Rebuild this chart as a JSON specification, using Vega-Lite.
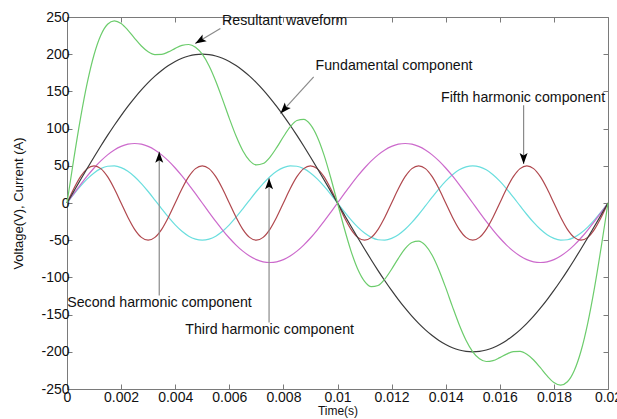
{
  "$schema": "https://vega.github.io/schema/vega-lite/v6.json",
  "autosize": {"type": "none"},
  "width": 541,
  "height": 372,
  "padding": {"left": 67, "top": 17, "right": 9, "bottom": 30},
  "background": "white",
  "config": {
    "font": "Liberation Sans",
    "view": {"stroke": "#7a7a7a", "strokeWidth": 1},
    "axis": {"domain": false, "grid": false, "tickColor": "#7a7a7a", "tickSize": -5, "labelFont": "Liberation Sans", "titleFont": "Liberation Sans", "labelFontSize": 14, "titleFontSize": 12, "titleFontWeight": "normal", "labelColor": "#111", "titleColor": "#111"}
  },
  "datasets": {
    "waves": [
      {"t": 0, "fund": 0, "h2": 0, "h3": 0, "h5": 0, "res": 0},
      {"t": 0.00025, "fund": 15.69, "h2": 12.51, "h3": 11.67, "h5": 19.13, "res": 59.0},
      {"t": 0.0005, "fund": 31.29, "h2": 24.72, "h3": 22.70, "h5": 35.36, "res": 114.07},
      {"t": 0.00075, "fund": 46.69, "h2": 36.32, "h3": 32.47, "h5": 46.19, "res": 161.67},
      {"t": 0.001, "fund": 61.80, "h2": 47.02, "h3": 40.45, "h5": 50, "res": 199.27},
      {"t": 0.00125, "fund": 76.54, "h2": 56.57, "h3": 46.19, "h5": 46.19, "res": 225.49},
      {"t": 0.0015, "fund": 90.80, "h2": 64.72, "h3": 49.38, "h5": 35.36, "res": 240.26},
      {"t": 0.00175, "fund": 104.50, "h2": 71.28, "h3": 49.85, "h5": 19.13, "res": 244.76},
      {"t": 0.002, "fund": 117.56, "h2": 76.08, "h3": 47.55, "h5": 0, "res": 241.19},
      {"t": 0.00225, "fund": 129.89, "h2": 79.02, "h3": 42.63, "h5": -19.13, "res": 232.41},
      {"t": 0.0025, "fund": 141.42, "h2": 80, "h3": 35.36, "h5": -35.36, "res": 221.42},
      {"t": 0.00275, "fund": 152.08, "h2": 79.02, "h3": 26.13, "h5": -46.19, "res": 211.04},
      {"t": 0.003, "fund": 161.80, "h2": 76.08, "h3": 15.45, "h5": -50, "res": 203.33},
      {"t": 0.00325, "fund": 170.53, "h2": 71.28, "h3": 3.92, "h5": -46.19, "res": 199.54},
      {"t": 0.0035, "fund": 178.20, "h2": 64.72, "h3": -7.82, "h5": -35.36, "res": 199.74},
      {"t": 0.00375, "fund": 184.78, "h2": 56.57, "h3": -19.13, "h5": -19.13, "res": 203.09},
      {"t": 0.004, "fund": 190.21, "h2": 47.02, "h3": -29.39, "h5": 0, "res": 207.84},
      {"t": 0.00425, "fund": 194.47, "h2": 36.32, "h3": -38.02, "h5": 19.13, "res": 211.90},
      {"t": 0.0045, "fund": 197.54, "h2": 24.72, "h3": -44.55, "h5": 35.36, "res": 213.07},
      {"t": 0.00475, "fund": 199.38, "h2": 12.51, "h3": -48.62, "h5": 46.19, "res": 209.46},
      {"t": 0.005, "fund": 200, "h2": 0, "h3": -50, "h5": 50, "res": 200},
      {"t": 0.00525, "fund": 199.38, "h2": -12.51, "h3": -48.62, "h5": 46.19, "res": 184.44},
      {"t": 0.0055, "fund": 197.54, "h2": -24.72, "h3": -44.55, "h5": 35.36, "res": 163.63},
      {"t": 0.00575, "fund": 194.47, "h2": -36.32, "h3": -38.02, "h5": 19.13, "res": 139.26},
      {"t": 0.006, "fund": 190.21, "h2": -47.02, "h3": -29.39, "h5": 0, "res": 113.80},
      {"t": 0.00625, "fund": 184.78, "h2": -56.57, "h3": -19.13, "h5": -19.13, "res": 89.95},
      {"t": 0.0065, "fund": 178.20, "h2": -64.72, "h3": -7.82, "h5": -35.36, "res": 70.30},
      {"t": 0.00675, "fund": 170.53, "h2": -71.28, "h3": 3.92, "h5": -46.19, "res": 56.98},
      {"t": 0.007, "fund": 161.80, "h2": -76.08, "h3": 15.45, "h5": -50, "res": 51.17},
      {"t": 0.00725, "fund": 152.08, "h2": -79.02, "h3": 26.13, "h5": -46.19, "res": 53.00},
      {"t": 0.0075, "fund": 141.42, "h2": -80, "h3": 35.36, "h5": -35.36, "res": 61.42},
      {"t": 0.00775, "fund": 129.89, "h2": -79.02, "h3": 42.63, "h5": -19.13, "res": 74.37},
      {"t": 0.008, "fund": 117.56, "h2": -76.08, "h3": 47.55, "h5": 0, "res": 89.03},
      {"t": 0.00825, "fund": 104.50, "h2": -71.28, "h3": 49.85, "h5": 19.13, "res": 102.20},
      {"t": 0.0085, "fund": 90.80, "h2": -64.72, "h3": 49.38, "h5": 35.36, "res": 110.82},
      {"t": 0.00875, "fund": 76.54, "h2": -56.57, "h3": 46.19, "h5": 46.19, "res": 112.35},
      {"t": 0.009, "fund": 61.80, "h2": -47.02, "h3": 40.45, "h5": 50, "res": 105.23},
      {"t": 0.00925, "fund": 46.69, "h2": -36.32, "h3": 32.47, "h5": 46.19, "res": 89.03},
      {"t": 0.0095, "fund": 31.29, "h2": -24.72, "h3": 22.70, "h5": 35.36, "res": 64.63},
      {"t": 0.00975, "fund": 15.69, "h2": -12.51, "h3": 11.67, "h5": 19.13, "res": 33.98},
      {"t": 0.01, "fund": 0, "h2": 0, "h3": 0, "h5": 0, "res": 0},
      {"t": 0.01025, "fund": -15.69, "h2": 12.51, "h3": -11.67, "h5": -19.13, "res": -33.98},
      {"t": 0.0105, "fund": -31.29, "h2": 24.72, "h3": -22.70, "h5": -35.36, "res": -64.63},
      {"t": 0.01075, "fund": -46.69, "h2": 36.32, "h3": -32.47, "h5": -46.19, "res": -89.03},
      {"t": 0.011, "fund": -61.80, "h2": 47.02, "h3": -40.45, "h5": -50, "res": -105.23},
      {"t": 0.01125, "fund": -76.54, "h2": 56.57, "h3": -46.19, "h5": -46.19, "res": -112.35},
      {"t": 0.0115, "fund": -90.80, "h2": 64.72, "h3": -49.38, "h5": -35.36, "res": -110.82},
      {"t": 0.01175, "fund": -104.50, "h2": 71.28, "h3": -49.85, "h5": -19.13, "res": -102.20},
      {"t": 0.012, "fund": -117.56, "h2": 76.08, "h3": -47.55, "h5": 0, "res": -89.03},
      {"t": 0.01225, "fund": -129.89, "h2": 79.02, "h3": -42.63, "h5": 19.13, "res": -74.37},
      {"t": 0.0125, "fund": -141.42, "h2": 80, "h3": -35.36, "h5": 35.36, "res": -61.42},
      {"t": 0.01275, "fund": -152.08, "h2": 79.02, "h3": -26.13, "h5": 46.19, "res": -53.00},
      {"t": 0.013, "fund": -161.80, "h2": 76.08, "h3": -15.45, "h5": 50, "res": -51.17},
      {"t": 0.01325, "fund": -170.53, "h2": 71.28, "h3": -3.92, "h5": 46.19, "res": -56.98},
      {"t": 0.0135, "fund": -178.20, "h2": 64.72, "h3": 7.82, "h5": 35.36, "res": -70.30},
      {"t": 0.01375, "fund": -184.78, "h2": 56.57, "h3": 19.13, "h5": 19.13, "res": -89.95},
      {"t": 0.014, "fund": -190.21, "h2": 47.02, "h3": 29.39, "h5": 0, "res": -113.80},
      {"t": 0.01425, "fund": -194.47, "h2": 36.32, "h3": 38.02, "h5": -19.13, "res": -139.26},
      {"t": 0.0145, "fund": -197.54, "h2": 24.72, "h3": 44.55, "h5": -35.36, "res": -163.63},
      {"t": 0.01475, "fund": -199.38, "h2": 12.51, "h3": 48.62, "h5": -46.19, "res": -184.44},
      {"t": 0.015, "fund": -200, "h2": 0, "h3": 50, "h5": -50, "res": -200},
      {"t": 0.01525, "fund": -199.38, "h2": -12.51, "h3": 48.62, "h5": -46.19, "res": -209.46},
      {"t": 0.0155, "fund": -197.54, "h2": -24.72, "h3": 44.55, "h5": -35.36, "res": -213.07},
      {"t": 0.01575, "fund": -194.47, "h2": -36.32, "h3": 38.02, "h5": -19.13, "res": -211.90},
      {"t": 0.016, "fund": -190.21, "h2": -47.02, "h3": 29.39, "h5": 0, "res": -207.84},
      {"t": 0.01625, "fund": -184.78, "h2": -56.57, "h3": 19.13, "h5": 19.13, "res": -203.09},
      {"t": 0.0165, "fund": -178.20, "h2": -64.72, "h3": 7.82, "h5": 35.36, "res": -199.74},
      {"t": 0.01675, "fund": -170.53, "h2": -71.28, "h3": -3.92, "h5": 46.19, "res": -199.54},
      {"t": 0.017, "fund": -161.80, "h2": -76.08, "h3": -15.45, "h5": 50, "res": -203.33},
      {"t": 0.01725, "fund": -152.08, "h2": -79.02, "h3": -26.13, "h5": 46.19, "res": -211.04},
      {"t": 0.0175, "fund": -141.42, "h2": -80, "h3": -35.36, "h5": 35.36, "res": -221.42},
      {"t": 0.01775, "fund": -129.89, "h2": -79.02, "h3": -42.63, "h5": 19.13, "res": -232.41},
      {"t": 0.018, "fund": -117.56, "h2": -76.08, "h3": -47.55, "h5": 0, "res": -241.19},
      {"t": 0.01825, "fund": -104.50, "h2": -71.28, "h3": -49.85, "h5": -19.13, "res": -244.76},
      {"t": 0.0185, "fund": -90.80, "h2": -64.72, "h3": -49.38, "h5": -35.36, "res": -240.26},
      {"t": 0.01875, "fund": -76.54, "h2": -56.57, "h3": -46.19, "h5": -46.19, "res": -225.49},
      {"t": 0.019, "fund": -61.80, "h2": -47.02, "h3": -40.45, "h5": -50, "res": -199.27},
      {"t": 0.01925, "fund": -46.69, "h2": -36.32, "h3": -32.47, "h5": -46.19, "res": -161.67},
      {"t": 0.0195, "fund": -31.29, "h2": -24.72, "h3": -22.70, "h5": -35.36, "res": -114.07},
      {"t": 0.01975, "fund": -15.69, "h2": -12.51, "h3": -11.67, "h5": -19.13, "res": -59.0},
      {"t": 0.02, "fund": 0, "h2": 0, "h3": 0, "h5": 0, "res": 0}
    ],
    "notes": [
      {"name": "Resultant waveform", "tx": 0.00805, "ty": 245, "x1": 0.00567, "y1": 234.5, "x2": 0.00474, "y2": 214.4},
      {"name": "Fundamental component", "tx": 0.01209, "ty": 184.3, "x1": 0.00912, "y1": 169.5, "x2": 0.00789, "y2": 120.4},
      {"name": "Fifth harmonic component", "tx": 0.01686, "ty": 141.3, "x1": 0.01688, "y1": 131.5, "x2": 0.01688, "y2": 52.3},
      {"name": "Second harmonic component", "tx": 0.00342, "ty": -134.6, "x1": 0.00341, "y1": -124.4, "x2": 0.00341, "y2": 68.9},
      {"name": "Third harmonic component", "tx": 0.00749, "ty": -170.5, "x1": 0.00747, "y1": -160.7, "x2": 0.00747, "y2": 33.2}
    ]
  },
  "resolve": {"axis": {"x": "independent", "y": "independent"}},
  "layer": [
    {
      "data": {"name": "waves"},
      "transform": [{"fold": ["h3", "h2", "h5", "fund", "res"], "as": ["series", "value"]}],
      "mark": {"type": "line", "strokeWidth": 1.2, "interpolate": "monotone"},
      "encoding": {
        "x": {"field": "t", "type": "quantitative", "scale": {"domain": [0, 0.02], "nice": false},
              "axis": {"orient": "bottom", "title": "Time(s)", "values": [0, 0.002, 0.004, 0.006, 0.008, 0.01, 0.012, 0.014, 0.016, 0.018, 0.02], "format": "~g", "labelFlush": false, "labelOverlap": false, "labelPadding": 6, "titlePadding": 1, "titleFontSize": 12}},
        "y": {"field": "value", "type": "quantitative", "scale": {"domain": [-250, 250], "nice": false},
              "axis": {"orient": "left", "title": "Voltage(V), Current (A)", "values": [-250, -200, -150, -100, -50, 0, 50, 100, 150, 200, 250], "labelExpr": "replace(datum.label, '−', '-')", "labelPadding": 3, "titlePadding": 15, "titleFontSize": 13}},
        "color": {"field": "series", "type": "nominal", "legend": null,
                  "scale": {"domain": ["fund", "h2", "h3", "h5", "res"], "range": ["#3a3a3a", "#cc6acc", "#6adede", "#b0484e", "#6ccc6c"]}},
        "detail": {"field": "series"}
      }
    },
    {
      "data": {"name": "notes"},
      "mark": {"type": "rule", "color": "#8a8a8a", "strokeWidth": 1.2},
      "encoding": {
        "x": {"field": "x1", "type": "quantitative", "axis": {"orient": "top", "title": null, "labels": false, "values": [0, 0.002, 0.004, 0.006, 0.008, 0.01, 0.012, 0.014, 0.016, 0.018, 0.02]}},
        "y": {"field": "y1", "type": "quantitative", "axis": {"orient": "right", "title": null, "labels": false, "values": [-250, -200, -150, -100, -50, 0, 50, 100, 150, 200, 250]}},
        "x2": {"field": "x2"},
        "y2": {"field": "y2"}
      }
    },
    {
      "data": {"name": "notes"},
      "transform": [{"filter": "datum.name == 'Second harmonic component' || datum.name == 'Third harmonic component'"}],
      "mark": {"type": "point", "shape": "M0,0L0.8,2.2L0,1.7L-0.8,2.2Z", "filled": true, "color": "#000", "opacity": 1, "size": 100, "angle": 0},
      "encoding": {
        "x": {"field": "x2", "type": "quantitative", "axis": null},
        "y": {"field": "y2", "type": "quantitative", "axis": null}
      }
    },
    {
      "data": {"name": "notes"},
      "transform": [{"filter": "datum.name == 'Fifth harmonic component'"}],
      "mark": {"type": "point", "shape": "M0,0L0.8,2.2L0,1.7L-0.8,2.2Z", "filled": true, "color": "#000", "opacity": 1, "size": 100, "angle": 180},
      "encoding": {
        "x": {"field": "x2", "type": "quantitative", "axis": null},
        "y": {"field": "y2", "type": "quantitative", "axis": null}
      }
    },
    {
      "data": {"name": "notes"},
      "transform": [{"filter": "datum.name == 'Resultant waveform'"}],
      "mark": {"type": "point", "shape": "M0,0L0.8,2.2L0,1.7L-0.8,2.2Z", "filled": true, "color": "#000", "opacity": 1, "size": 100, "angle": 239},
      "encoding": {
        "x": {"field": "x2", "type": "quantitative", "axis": null},
        "y": {"field": "y2", "type": "quantitative", "axis": null}
      }
    },
    {
      "data": {"name": "notes"},
      "transform": [{"filter": "datum.name == 'Fundamental component'"}],
      "mark": {"type": "point", "shape": "M0,0L0.8,2.2L0,1.7L-0.8,2.2Z", "filled": true, "color": "#000", "opacity": 1, "size": 100, "angle": 222},
      "encoding": {
        "x": {"field": "x2", "type": "quantitative", "axis": null},
        "y": {"field": "y2", "type": "quantitative", "axis": null}
      }
    },
    {
      "data": {"name": "notes"},
      "mark": {"type": "text", "font": "Liberation Sans", "fontSize": 14.2, "color": "#111", "align": "center", "baseline": "middle"},
      "encoding": {
        "x": {"field": "tx", "type": "quantitative", "axis": null},
        "y": {"field": "ty", "type": "quantitative", "axis": null},
        "text": {"field": "name"}
      }
    }
  ]
}
